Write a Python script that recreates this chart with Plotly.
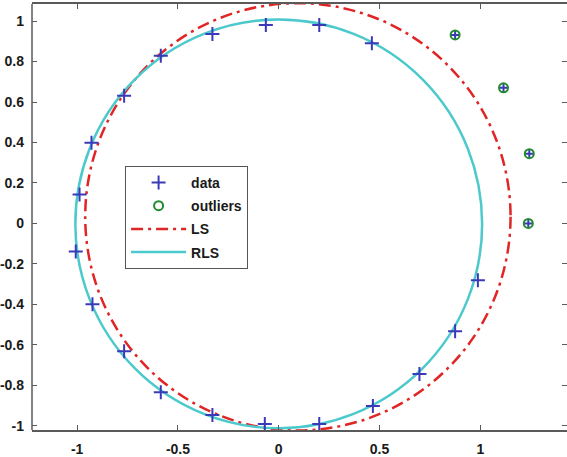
import plotly.graph_objects as go

# Noisy samples on the unit circle
data_x = [0.462, 0.201, -0.064, -0.329, -0.585, -0.767, -0.929, -0.988, -1.007,
          -0.924, -0.767, -0.585, -0.329, -0.069, 0.201, 0.467, 0.698, 0.875, 0.988]
data_y = [0.890, 0.980, 0.980, 0.936, 0.828, 0.631, 0.399, 0.143, -0.138,
          -0.399, -0.631, -0.833, -0.946, -0.990, -0.990, -0.901, -0.744, -0.532, -0.281]

# Outlying samples
out_x = [0.875, 1.115, 1.243, 1.238]
out_y = [0.931, 0.670, 0.345, 0.000]

# Fitted circles: (centre x, centre y, radius)
ls_fit = (0.095, 0.033, 1.055)
rls_fit = (0.0, -0.002, 1.009)

x_ticks = [-1, -0.5, 0, 0.5, 1]
x_labels = ["-1", "-0.5", "0", "0.5", "1"]
y_ticks = [-1, -0.8, -0.6, -0.4, -0.2, 0, 0.2, 0.4, 0.6, 0.8, 1]
y_labels = ["-1", "-0.8", "-0.6", "-0.4", "-0.2", "0", "0.2", "0.4", "0.6", "0.8", "1"]

BLUE = "#3a3ab8"
GREEN = "#1f8a2f"
RED = "#e02525"
CYAN = "#4cc9cc"
AXIS = "#5a5a5a"
LS_DASH = "12px,5px,3px,5px"
FONT = dict(family="Liberation Sans", size=14, color="#1a1a1a", weight="bold")

fig = go.Figure()

fig.add_trace(go.Scatter(
    x=data_x, y=data_y, mode="markers", name="data",
    legendgroup="data", legendrank=1,
    marker=dict(symbol="cross-thin", size=10, line=dict(color=BLUE, width=2)),
))
fig.add_trace(go.Scatter(
    x=out_x, y=out_y, mode="markers", name="outliers-inner",
    showlegend=False, hoverinfo="skip",
    marker=dict(symbol="cross-thin", size=6, line=dict(color=BLUE, width=2)),
))
fig.add_trace(go.Scatter(
    x=out_x, y=out_y, mode="markers", name="outliers",
    legendgroup="outliers", legendrank=2,
    marker=dict(symbol="circle-open", size=9, color=GREEN, line=dict(color=GREEN, width=2)),
))


def add_fit(fit, name, color, dash, rank):
    cx, cy, r = fit
    # the fitted circle itself, placed on the data axes
    fig.add_shape(
        type="circle", xref="x", yref="y",
        x0=cx - r, x1=cx + r, y0=cy - r, y1=cy + r,
        line=dict(color=color, width=2.5, dash=dash),
        layer="below",
    )
    # legend entry with a line sample for the fit
    fig.add_trace(go.Scatter(
        x=[None], y=[None], mode="lines", name=name,
        legendgroup=name, legendrank=rank, hoverinfo="skip",
        line=dict(color=color, width=2.5, dash=dash),
    ))


add_fit(ls_fit, "LS", RED, LS_DASH, 3)
add_fit(rls_fit, "RLS", CYAN, "solid", 4)

# Axis box: left, bottom and top lines (right edge runs off the page)
fig.add_shape(type="line", xref="paper", yref="paper", x0=0, x1=0, y0=0, y1=1,
              line=dict(color=AXIS, width=1.5))

fig.update_xaxes(
    range=[-1.224, 1.43], tickvals=x_ticks, ticktext=x_labels,
    ticks="inside", ticklen=5, tickwidth=1, tickcolor=AXIS,
    showline=True, linecolor=AXIS, linewidth=1.5, mirror="ticks",
    showgrid=False, zeroline=False, tickfont=FONT, ticklabelstandoff=5,
)
fig.update_yaxes(
    range=[-1.02, 1.084], tickvals=y_ticks, ticktext=y_labels,
    ticks="inside", ticklen=5, tickwidth=1, tickcolor=AXIS,
    showline=False, mirror="ticks",
    showgrid=False, zeroline=False, tickfont=FONT, ticklabelstandoff=7,
)

fig.update_layout(
    width=567, height=457,
    margin=dict(l=27, r=0, t=4, b=26),
    paper_bgcolor="white", plot_bgcolor="white",
    showlegend=True,
    legend=dict(
        x=0.174, y=0.62, xanchor="left", yanchor="top",
        bgcolor="white", bordercolor="#555555", borderwidth=1,
        font=dict(family="Liberation Sans", size=14, color="#1a1a1a", weight="bold"),
        itemwidth=55, tracegroupgap=2, traceorder="grouped",
    ),
)

fig.write_html("out.html")
